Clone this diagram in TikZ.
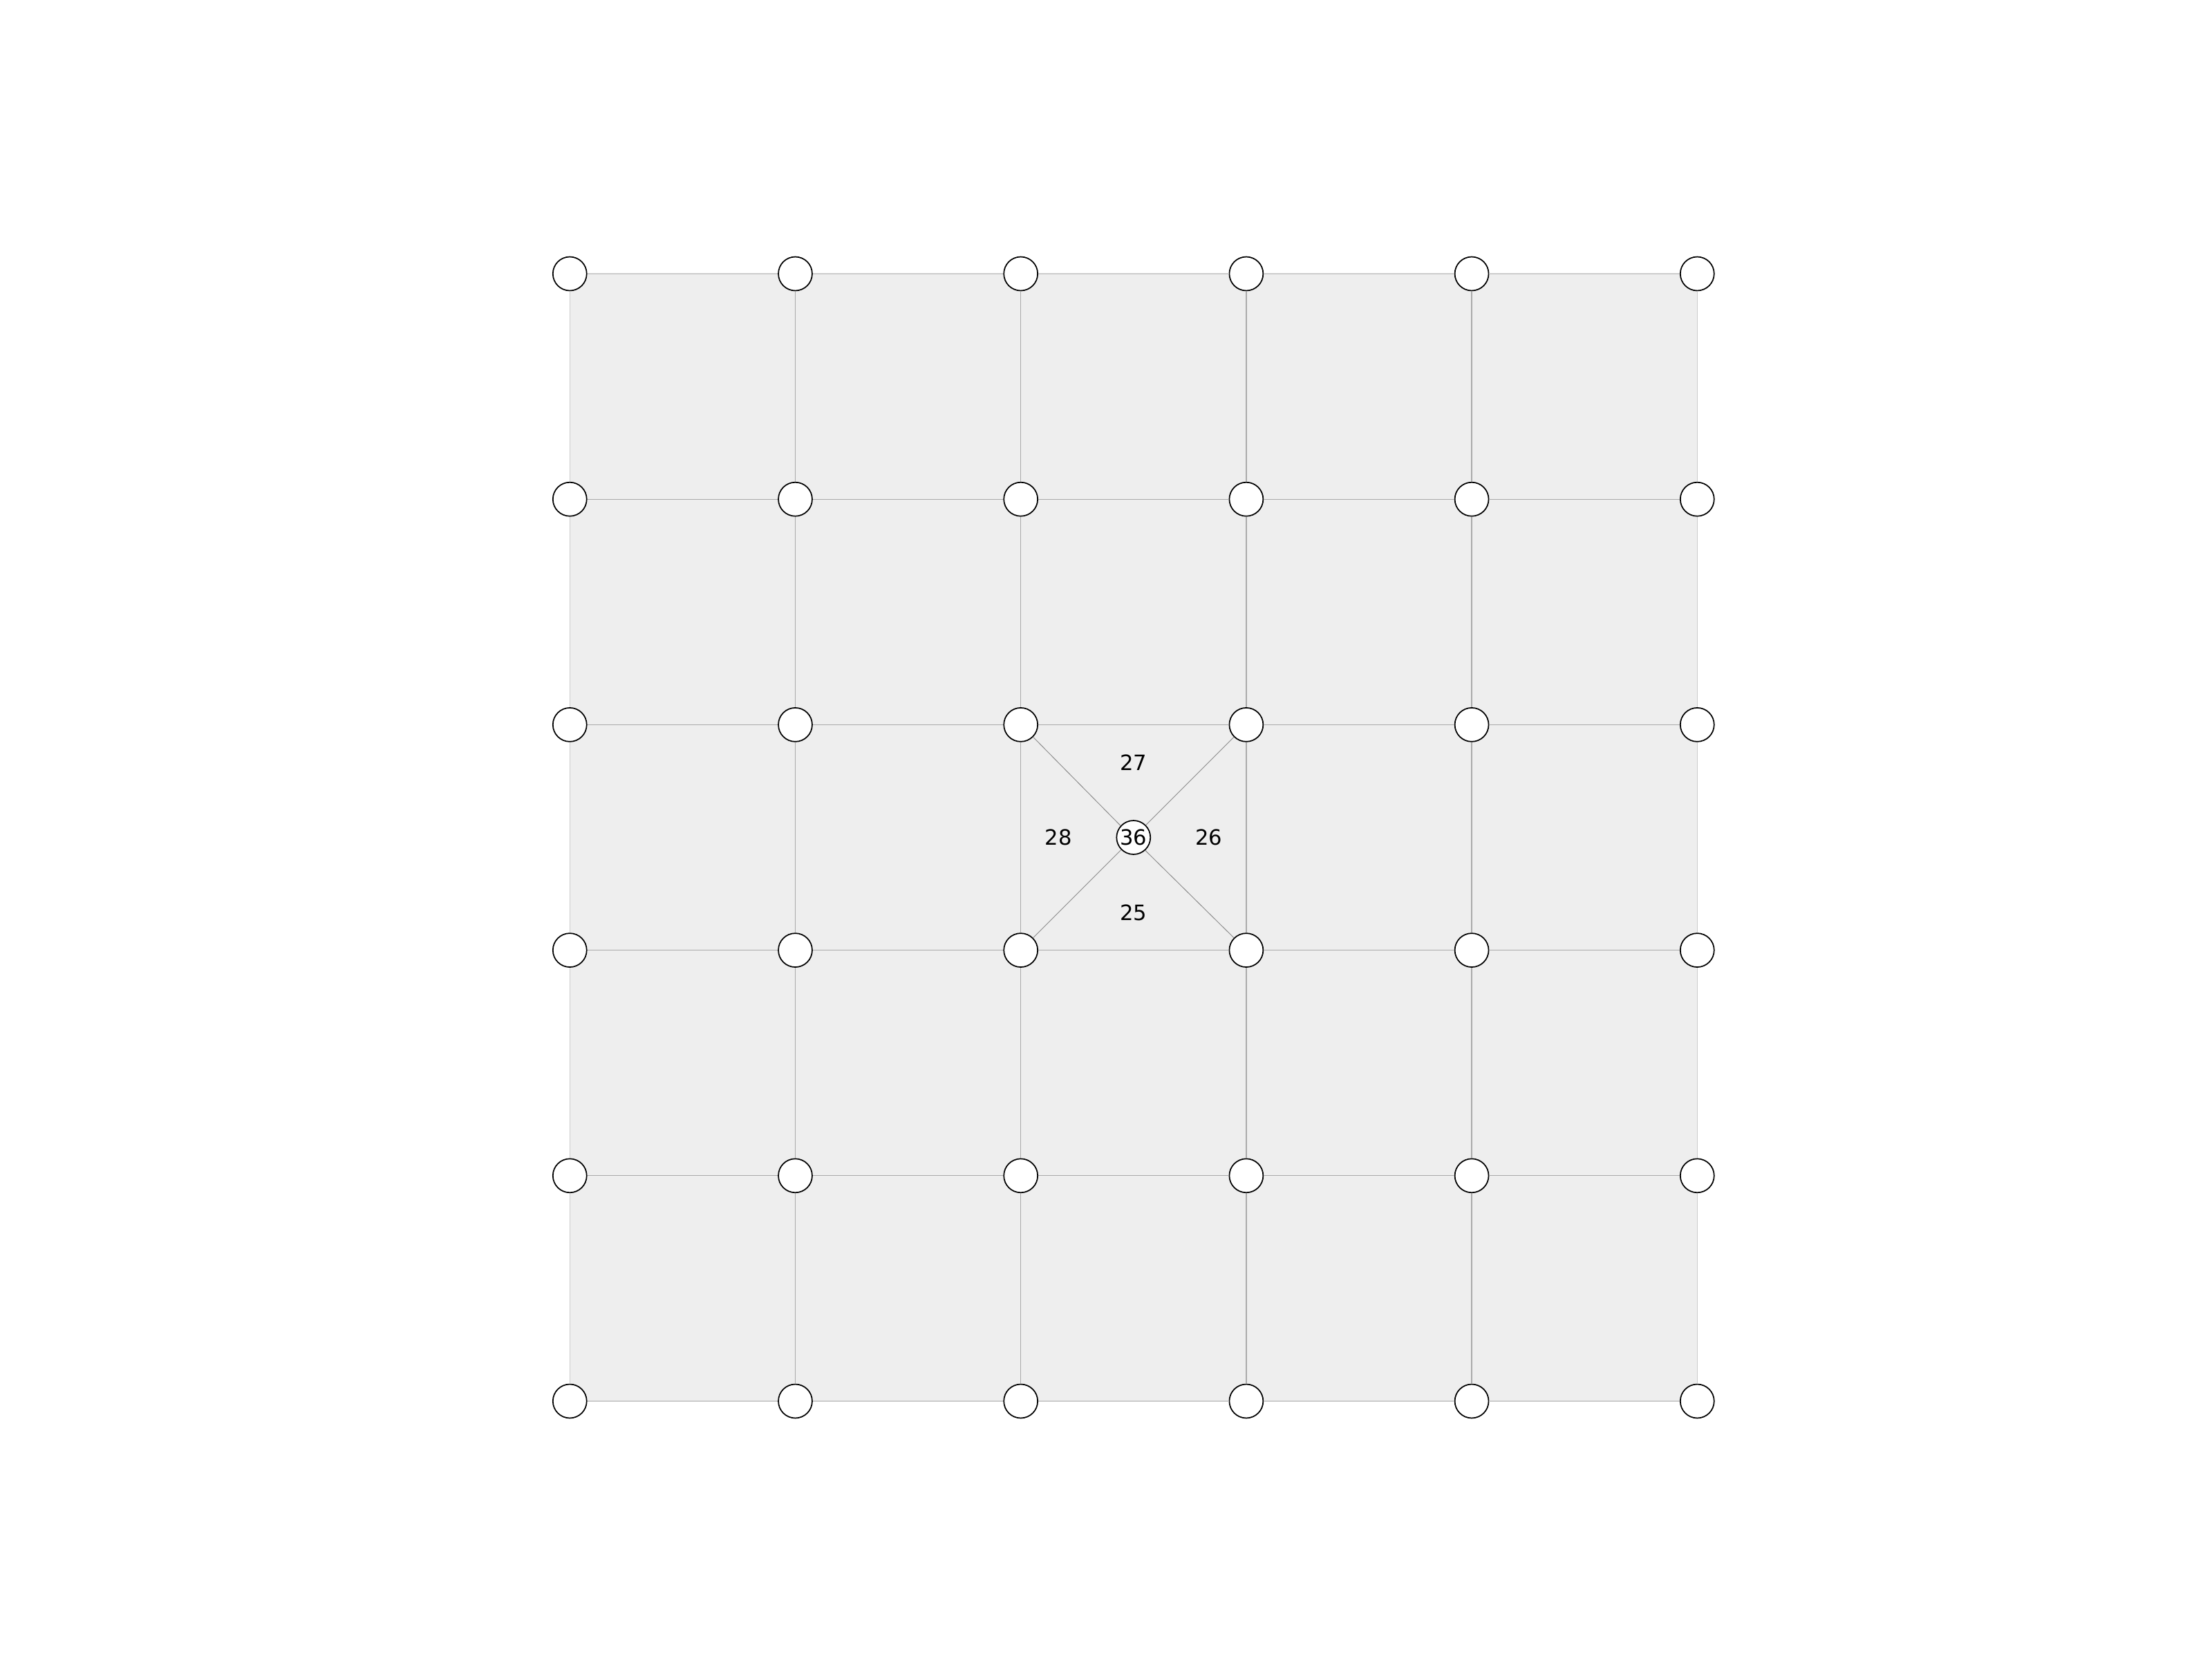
\documentclass[tikz,border=0pt]{standalone}
\usepackage{fontspec}
\setmainfont{DejaVu Sans}
\usetikzlibrary{backgrounds}
\definecolor{cellafill}{HTML}{EEEEEE}
\definecolor{bordo}{HTML}{CCCCCC}
\definecolor{interno}{HTML}{AAAAAA}
\definecolor{diag}{HTML}{8C8C8C}
\tikzset{
  vertice/.style={circle, draw=black, line width=0.45pt, fill=white,
    minimum size=0.45cm, inner sep=0pt, font=\fontsize{8}{9}\selectfont},
  lato/.style={draw=interno, line width=0.35pt},
  latoest/.style={draw=bordo, line width=0.35pt},
  diagonale/.style={draw=diag, line width=0.25pt},
  etichetta/.style={font=\fontsize{8}{9}\selectfont}
}
\begin{document}
\begin{tikzpicture}[x=3cm, y=3cm]
    \useasboundingbox (-2.527,-1.143) rectangle (7.283,6.214);

    % Vertici della griglia
    \foreach \i in {0,...,5} {
        \foreach \j in {0,...,5} {
            \node[vertice] (n\i\j) at (\i,\j) {};
        }
    }
    % Vertice centrale
    \node[vertice] (c) at (2.5,2.5) {36};

    % Sfondo
    \begin{scope}[on background layer]
        \fill[cellafill] (n00.center) rectangle (n55.center);
    \end{scope}

    % Lati (orizzontali e verticali)
    \foreach \i [evaluate=\i as \k using int(\i+1)] in {0,...,4} {
        \foreach \j in {1,...,4} \draw[lato] (n\i\j) -- (n\k\j);
        \foreach \j in {0,5} \draw[latoest] (n\i\j) -- (n\k\j);
        \foreach \j in {1,...,4} \draw[lato] (n\j\i) -- (n\j\k);
        \foreach \j in {0,5} \draw[latoest] (n\j\i) -- (n\j\k);
    }

    % Diagonali della cella centrale
    \foreach \v in {n22, n32, n33, n23} {
        \draw[diagonale] (c) -- (\v);
    }

    % Etichette dei triangoli
    \node[etichetta] (t25) at (2.5,2.1667) {25};
    \node[etichetta] (t26) at (2.8333,2.5) {26};
    \node[etichetta] (t27) at (2.5,2.8333) {27};
    \node[etichetta] (t28) at (2.1667,2.5) {28};

\end{tikzpicture}
\end{document}
